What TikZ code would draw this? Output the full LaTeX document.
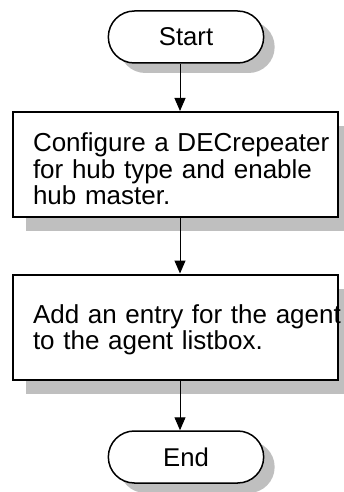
\documentclass[tikz,border=0pt]{standalone}
\usepackage{fontspec}
\setmainfont{Liberation Sans}
\usetikzlibrary{shapes.misc, positioning, shadows, arrows.meta}
\colorlet{shadowgray}{black!25}
\tikzset{terminal/.style = {rounded rectangle, draw=black, line width=1.5pt, fill=white, minimum width=162pt, minimum height=52pt, font=\fontsize{25.7}{26.5}\selectfont, drop shadow={shadow xshift=11pt, shadow yshift=-10pt, fill=shadowgray, opacity=1}}}
\tikzset{process/.style = {rectangle, draw=black, line width=2pt, fill=white, minimum width=325pt, minimum height=105pt, text width=285pt, inner xsep=19pt, align=left, font={\fontsize{26}{26.5}\selectfont\spaceskip=0.2em\relax}, drop shadow={shadow xshift=13pt, shadow yshift=-14pt, fill=shadowgray, opacity=1}}}
\tikzset{arrow/.style={line width=1pt, -{Triangle[length=13pt,width=11pt]}}}
\begin{document}
\begin{tikzpicture}[x=1pt,y=-1pt]
	\useasboundingbox (0,0) rectangle (343,492);
	\node[terminal] (start) at (186,37) {Start};
	\node[process, text height=28pt] (config) at (175.5,164.5) {\mbox{Configure a DECrepeater}\\\mbox{for hub type and enable}\\\mbox{hub master.}};
	\node[process, text depth=26.5pt] (agent) at (175.5,327) {\mbox{Add an entry for the agent}\\\mbox{to the agent listbox.}};
	\node[terminal] (end) at (186,457) {End};
	\draw[arrow] ([xshift=-6pt]start.south) -- ([xshift=4.5pt]config.north);
	\draw[arrow] ([xshift=4.5pt]config.south) -- ([xshift=4.5pt]agent.north);
	\draw[arrow] ([xshift=4.5pt]agent.south) -- ([xshift=-6pt]end.north);
\end{tikzpicture}
\end{document}
